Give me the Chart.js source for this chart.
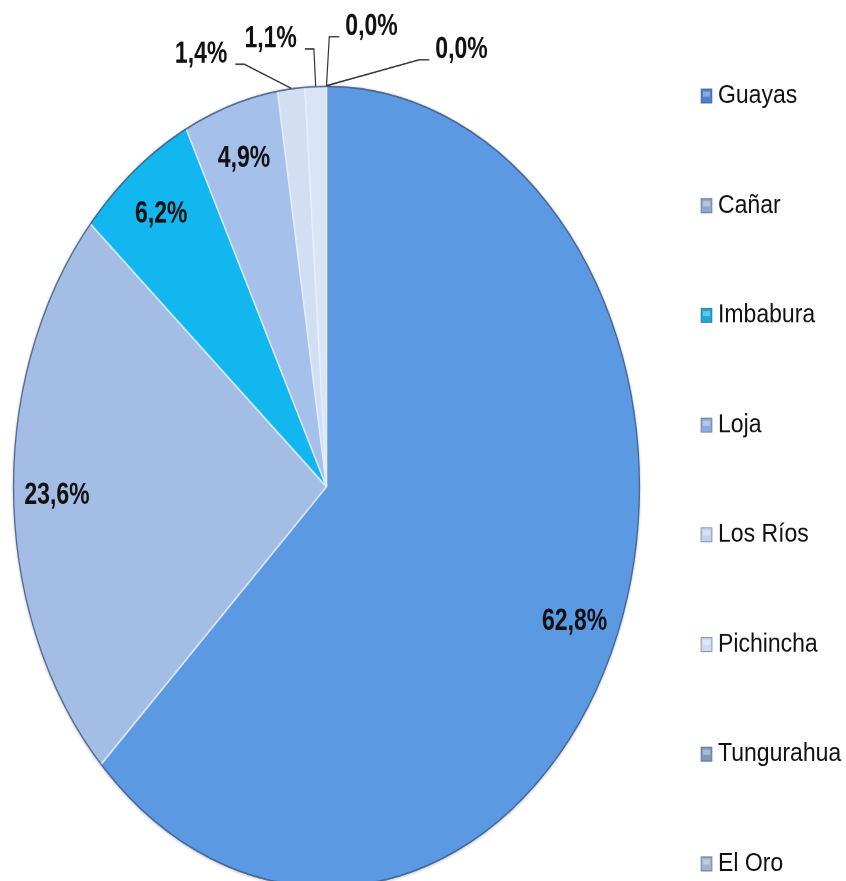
<!DOCTYPE html>
<html>
<head>
<meta charset="utf-8">
<script src="https://cdn.jsdelivr.net/npm/chart.js@4"></script>
<style>
  html, body { margin: 0; padding: 0; background: #fff; overflow: hidden; }
  #wrap { width: 846px; height: 881px; overflow: hidden; }
  /* the original picture is stretched vertically, so the pie is an ellipse */
  #pie { transform: scaleY(1.279); transform-origin: 0 0; }
</style>
</head>
<body>
<div id="wrap"><canvas id="pie" width="846" height="700"></canvas></div>
<script>
// data
const provinces = ['Guayas', 'Cañar', 'Imbabura', 'Loja', 'Los Ríos', 'Pichincha', 'Tungurahua', 'El Oro'];
const shares = [62.8, 23.6, 6.2, 4.9, 1.4, 1.1, 0.0, 0.0];

// styles
const sliceColors = ['#5b9ae2', '#a3bde4', '#12b7ef', '#a6c0ec', '#d2dff3', '#d9e5f6', '#9fb6d6', '#b9c6d8'];
const markerColors = ['#4a80cc', '#8fa8cc', '#1aa6dc', '#8eaad8', '#c3d2ea', '#ccd9ee', '#7f98ba', '#a3b2c8'];
// label offsets (px) from the slice edge for the small slices, null = inside the slice
const calloutOffsets = [null, null, null, null, [-90, -34], [-45, -47], [45, -59], [135, -36]];

const STRETCH = 1.279;

function formatShare(v) {
  return v.toFixed(1).replace('.', ',') + '%';
}

const decorPlugin = {
  id: 'decor',
  beforeDatasetsDraw(chart) {
    // soft shadow behind the pie
    const a = chart.getDatasetMeta(0).data[0];
    const ctx = chart.ctx;
    ctx.save();
    ctx.shadowColor = 'rgba(0,0,0,0.35)';
    ctx.shadowBlur = 5;
    ctx.shadowOffsetY = 1;
    ctx.beginPath();
    ctx.arc(a.x, a.y, a.outerRadius, 0, Math.PI * 2);
    ctx.fillStyle = '#5b9ae2';
    ctx.fill();
    ctx.restore();
  },
  afterDatasetsDraw(chart) {
    const ctx = chart.ctx;
    const arcs = chart.getDatasetMeta(0).data;
    const a0 = arcs[0];

    // dark outer rim
    ctx.save();
    ctx.beginPath();
    ctx.arc(a0.x, a0.y, a0.outerRadius - 0.5, 0, Math.PI * 2);
    ctx.strokeStyle = 'rgba(45,70,110,0.75)';
    ctx.lineWidth = 1.3;
    ctx.stroke();
    ctx.restore();

    ctx.save();
    ctx.font = 'bold 23px "Liberation Sans", Arial, sans-serif';
    ctx.fillStyle = '#111';
    ctx.textAlign = 'center';
    ctx.textBaseline = 'middle';
    arcs.forEach((arc, i) => {
      const mid = (arc.startAngle + arc.endAngle) / 2;
      const text = formatShare(shares[i]);
      let lx, ly;
      const off = calloutOffsets[i];
      if (!off) {
        const r = arc.outerRadius * 0.86;
        lx = arc.x + Math.cos(mid) * r;
        ly = arc.y + Math.sin(mid) * r;
      } else {
        const ex = arc.x + Math.cos(mid) * arc.outerRadius;
        const ey = arc.y + Math.sin(mid) * arc.outerRadius;
        lx = ex + off[0];
        ly = ey + off[1] / STRETCH;
        // leader line
        const w = ctx.measureText(text).width;
        const lineY = ly + 10 / STRETCH;
        let endX, elbowX;
        if (off[0] < 0) {
          endX = lx + w / 2 + 8;
          elbowX = endX + 9;
        } else {
          endX = lx - w / 2 - 6;
          elbowX = endX - 10;
        }
        ctx.beginPath();
        ctx.moveTo(endX, lineY);
        ctx.lineTo(elbowX, lineY);
        ctx.lineTo(ex, ey);
        ctx.strokeStyle = '#333';
        ctx.lineWidth = 1.2;
        ctx.stroke();
      }
      ctx.save();
      ctx.translate(lx, ly);
      ctx.scale(1, 1.04);
      ctx.fillText(text, 0, 0);
      ctx.restore();
    });
    ctx.restore();
  },
  afterDraw(chart) {
    // legend on the right, evenly spaced
    const ctx = chart.ctx;
    const top = 96 / STRETCH;
    const step = 109.7 / STRETCH;
    ctx.save();
    ctx.font = '23px "Liberation Sans", Arial, sans-serif';
    ctx.textBaseline = 'middle';
    ctx.textAlign = 'left';
    provinces.forEach((name, i) => {
      const y = top + i * step;
      const g = ctx.createLinearGradient(0, y - 5.5, 0, y + 5.5);
      g.addColorStop(0, markerColors[i]);
      g.addColorStop(1, '#ffffff');
      ctx.fillStyle = markerColors[i];
      ctx.fillRect(701, y - 5.5, 11, 11);
      ctx.fillStyle = 'rgba(255,255,255,0.35)';
      ctx.fillRect(703, y - 3.5, 7, 4);
      ctx.strokeStyle = 'rgba(60,80,110,0.6)';
      ctx.lineWidth = 0.8;
      ctx.strokeRect(701, y - 5.5, 11, 11);
      ctx.save();
      ctx.translate(718, y);
      ctx.scale(1, 0.87);
      ctx.fillStyle = '#111';
      ctx.fillText(name, 0, 0);
      ctx.restore();
    });
    ctx.restore();
  }
};

const ctx = document.getElementById('pie').getContext('2d');
new Chart(ctx, {
  type: 'pie',
  data: {
    labels: provinces,
    datasets: [{
      data: shares,
      backgroundColor: sliceColors,
      borderColor: 'rgba(235,242,252,0.7)',
      borderWidth: 1.5,
      hoverOffset: 0,
      radius: 313.5
    }]
  },
  options: {
    responsive: false,
    devicePixelRatio: 2,
    animation: false,
    layout: { padding: { left: 13, right: 206, top: 67, bottom: 6 } },
    plugins: {
      legend: { display: false },
      tooltip: { enabled: false }
    }
  },
  plugins: [decorPlugin]
});
</script>
</body>
</html>
